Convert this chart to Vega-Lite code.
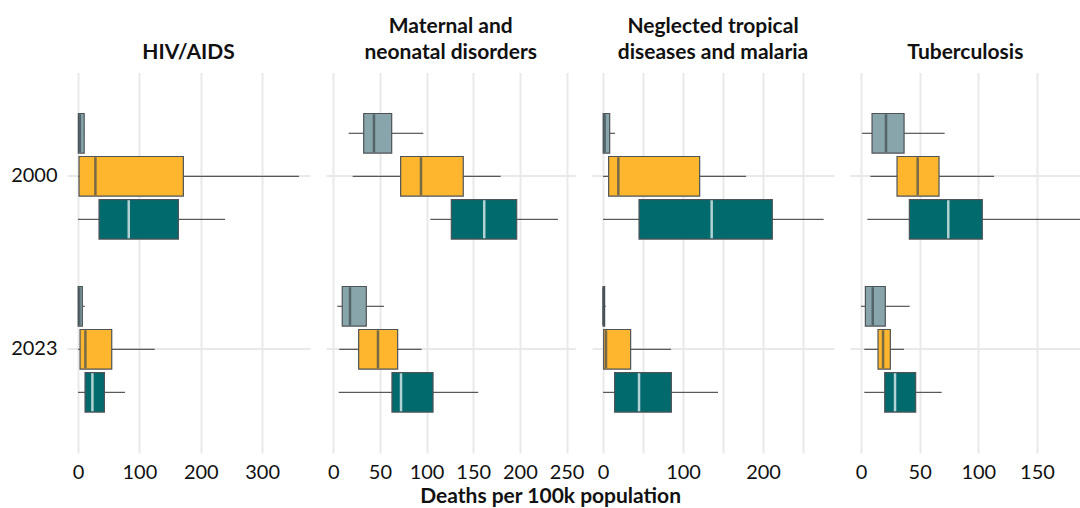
{
  "$schema": "https://vega.github.io/schema/vega-lite/v6.json",
  "padding": {"left": 10, "top": 16.5, "right": 0, "bottom": 0},
  "bounds": "flush",
  "spacing": 16,
  "resolve": {"scale": {"x": "independent", "y": "independent"}},
  "title": {"text": "Deaths per 100k population", "orient": "bottom", "anchor": "middle", "fontSize": 21, "fontWeight": "bold", "color": "#111111", "offset": 4, "dx": 5},
  "data": {"values": [
    {"cause": "HIV/AIDS", "year": "2000", "group": "Group A", "lower": 0, "q1": 0.5, "median": 3, "q3": 10, "upper": 10.5},
    {"cause": "HIV/AIDS", "year": "2000", "group": "Group B", "lower": 0, "q1": 1.6, "median": 28.3, "q3": 171.6, "upper": 360},
    {"cause": "HIV/AIDS", "year": "2000", "group": "Group C", "lower": 0, "q1": 34.2, "median": 82.6, "q3": 163.5, "upper": 239.6},
    {"cause": "HIV/AIDS", "year": "2023", "group": "Group A", "lower": 0, "q1": 0.2, "median": 2, "q3": 7, "upper": 11},
    {"cause": "HIV/AIDS", "year": "2023", "group": "Group B", "lower": 0, "q1": 3.3, "median": 12, "q3": 54.9, "upper": 125},
    {"cause": "HIV/AIDS", "year": "2023", "group": "Group C", "lower": 0, "q1": 11.4, "median": 23.4, "q3": 42.9, "upper": 76.6},
    {"cause": "Maternal", "year": "2000", "group": "Group A", "lower": 16.5, "q1": 32.6, "median": 43.6, "q3": 62.6, "upper": 96.5},
    {"cause": "Maternal", "year": "2000", "group": "Group B", "lower": 20.8, "q1": 72.2, "median": 94, "q3": 139.3, "upper": 179.4},
    {"cause": "Maternal", "year": "2000", "group": "Group C", "lower": 104, "q1": 126.5, "median": 161.8, "q3": 196.6, "upper": 240.8},
    {"cause": "Maternal", "year": "2023", "group": "Group A", "lower": 4.3, "q1": 9.6, "median": 17.9, "q3": 35.4, "upper": 54.3},
    {"cause": "Maternal", "year": "2023", "group": "Group B", "lower": 6.4, "q1": 27.2, "median": 47.9, "q3": 69, "upper": 94.7},
    {"cause": "Maternal", "year": "2023", "group": "Group C", "lower": 5.8, "q1": 62.9, "median": 72.6, "q3": 106.9, "upper": 155.4},
    {"cause": "NTD", "year": "2000", "group": "Group A", "lower": 0, "q1": 0.2, "median": 2, "q3": 8.3, "upper": 15},
    {"cause": "NTD", "year": "2000", "group": "Group B", "lower": 0, "q1": 7, "median": 19.1, "q3": 120.8, "upper": 178.7},
    {"cause": "NTD", "year": "2000", "group": "Group C", "lower": 0, "q1": 45, "median": 135.8, "q3": 211.6, "upper": 275.8},
    {"cause": "NTD", "year": "2023", "group": "Group A", "lower": 0, "q1": 0.1, "median": 0.5, "q3": 2, "upper": 3.3},
    {"cause": "NTD", "year": "2023", "group": "Group B", "lower": 0, "q1": 0.8, "median": 3.7, "q3": 34.5, "upper": 85},
    {"cause": "NTD", "year": "2023", "group": "Group C", "lower": 0, "q1": 14.5, "median": 45, "q3": 85.4, "upper": 143.7},
    {"cause": "TB", "year": "2000", "group": "Group A", "lower": 0.9, "q1": 9.4, "median": 21.3, "q3": 36.7, "upper": 71.3},
    {"cause": "TB", "year": "2000", "group": "Group B", "lower": 8, "q1": 30.7, "median": 48.3, "q3": 66.5, "upper": 113.4},
    {"cause": "TB", "year": "2000", "group": "Group C", "lower": 5.4, "q1": 41.2, "median": 74.4, "q3": 103.4, "upper": 188},
    {"cause": "TB", "year": "2023", "group": "Group A", "lower": 0, "q1": 3.7, "median": 10, "q3": 20.7, "upper": 41.5},
    {"cause": "TB", "year": "2023", "group": "Group B", "lower": 2.8, "q1": 14.5, "median": 18.8, "q3": 25, "upper": 36.7},
    {"cause": "TB", "year": "2023", "group": "Group C", "lower": 2.8, "q1": 20.2, "median": 29, "q3": 46.6, "upper": 68.8}
  ]},
  "hconcat": [
    {
      "width": 243, "height": 380.6,
      "title": {"text": "HIV/AIDS"},
      "transform": [{"filter": "datum.cause === 'HIV/AIDS'"}],
      "encoding": {
        "y": {"field": "year", "type": "nominal", "sort": ["2000", "2023"], "scale": {"paddingInner": 0.254, "paddingOuter": 0.227}, "axis": {"title": null, "labels": true}},
        "yOffset": {"field": "group", "type": "nominal", "sort": ["Group A", "Group B", "Group C"], "scale": {"paddingInner": 0.08, "paddingOuter": 0.04}}
      },
      "layer": [
        {"mark": {"type": "rule", "color": "#333333", "strokeWidth": 1, "clip": true},
         "encoding": {"x": {"field": "lower", "type": "quantitative", "scale": {"domain": [-18, 378], "nice": false, "zero": false}, "axis": {"title": null, "values": [0, 50, 100, 150, 200, 250, 300, 350], "labelExpr": "datum.value % 100 === 0 ? datum.label : ''"}}, "x2": {"field": "upper"}}},
        {"mark": {"type": "bar", "stroke": "#4d5357", "strokeWidth": 1.2, "clip": true},
         "encoding": {"x": {"field": "q1", "type": "quantitative"}, "x2": {"field": "q3"}, "fill": {"field": "group", "type": "nominal", "scale": {"domain": ["Group A", "Group B", "Group C"], "range": ["#87a5aa", "#feb62f", "#006a6d"]}, "legend": null}}},
        {"mark": {"type": "tick", "orient": "vertical", "thickness": 2.5, "size": 38, "clip": true},
         "encoding": {"x": {"field": "median", "type": "quantitative"}, "color": {"condition": {"test": "datum.group === 'Group C'", "value": "#ffffff"}, "value": "#3d4a50"}}}
      ]
    },
    {
      "width": 249.4, "height": 380.6,
      "title": {"text": ["Maternal and", "neonatal disorders"]},
      "transform": [{"filter": "datum.cause === 'Maternal'"}],
      "encoding": {
        "y": {"field": "year", "type": "nominal", "sort": ["2000", "2023"], "scale": {"paddingInner": 0.254, "paddingOuter": 0.227}, "axis": {"title": null, "labels": false}},
        "yOffset": {"field": "group", "type": "nominal", "sort": ["Group A", "Group B", "Group C"], "scale": {"paddingInner": 0.08, "paddingOuter": 0.04}}
      },
      "layer": [
        {"mark": {"type": "rule", "color": "#333333", "strokeWidth": 1, "clip": true},
         "encoding": {"x": {"field": "lower", "type": "quantitative", "scale": {"domain": [-7.8, 259.5], "nice": false, "zero": false}, "axis": {"title": null, "values": [0, 25, 50, 75, 100, 125, 150, 175, 200, 225, 250], "labelExpr": "datum.value % 50 === 0 ? datum.label : ''"}}, "x2": {"field": "upper"}}},
        {"mark": {"type": "bar", "stroke": "#4d5357", "strokeWidth": 1.2, "clip": true},
         "encoding": {"x": {"field": "q1", "type": "quantitative"}, "x2": {"field": "q3"}, "fill": {"field": "group", "type": "nominal", "scale": {"domain": ["Group A", "Group B", "Group C"], "range": ["#87a5aa", "#feb62f", "#006a6d"]}, "legend": null}}},
        {"mark": {"type": "tick", "orient": "vertical", "thickness": 2.5, "size": 38, "clip": true},
         "encoding": {"x": {"field": "median", "type": "quantitative"}, "color": {"condition": {"test": "datum.group === 'Group C'", "value": "#ffffff"}, "value": "#3d4a50"}}}
      ]
    },
    {
      "width": 242, "height": 380.6,
      "title": {"text": ["Neglected tropical", "diseases and malaria"]},
      "transform": [{"filter": "datum.cause === 'NTD'"}],
      "encoding": {
        "y": {"field": "year", "type": "nominal", "sort": ["2000", "2023"], "scale": {"paddingInner": 0.254, "paddingOuter": 0.227}, "axis": {"title": null, "labels": false}},
        "yOffset": {"field": "group", "type": "nominal", "sort": ["Group A", "Group B", "Group C"], "scale": {"paddingInner": 0.08, "paddingOuter": 0.04}}
      },
      "layer": [
        {"mark": {"type": "rule", "color": "#333333", "strokeWidth": 1, "clip": true},
         "encoding": {"x": {"field": "lower", "type": "quantitative", "scale": {"domain": [-13.8, 288.7], "nice": false, "zero": false}, "axis": {"title": null, "values": [0, 50, 100, 150, 200, 250], "labelExpr": "datum.value % 100 === 0 ? datum.label : ''"}}, "x2": {"field": "upper"}}},
        {"mark": {"type": "bar", "stroke": "#4d5357", "strokeWidth": 1.2, "clip": true},
         "encoding": {"x": {"field": "q1", "type": "quantitative"}, "x2": {"field": "q3"}, "fill": {"field": "group", "type": "nominal", "scale": {"domain": ["Group A", "Group B", "Group C"], "range": ["#87a5aa", "#feb62f", "#006a6d"]}, "legend": null}}},
        {"mark": {"type": "tick", "orient": "vertical", "thickness": 2.5, "size": 38, "clip": true},
         "encoding": {"x": {"field": "median", "type": "quantitative"}, "color": {"condition": {"test": "datum.group === 'Group C'", "value": "#ffffff"}, "value": "#3d4a50"}}}
      ]
    },
    {
      "width": 230.6, "height": 380.6,
      "title": {"text": "Tuberculosis"},
      "transform": [{"filter": "datum.cause === 'TB'"}],
      "encoding": {
        "y": {"field": "year", "type": "nominal", "sort": ["2000", "2023"], "scale": {"paddingInner": 0.254, "paddingOuter": 0.227}, "axis": {"title": null, "labels": false}},
        "yOffset": {"field": "group", "type": "nominal", "sort": ["Group A", "Group B", "Group C"], "scale": {"paddingInner": 0.08, "paddingOuter": 0.04}}
      },
      "layer": [
        {"mark": {"type": "rule", "color": "#333333", "strokeWidth": 1, "clip": true},
         "encoding": {"x": {"field": "lower", "type": "quantitative", "scale": {"domain": [-9.4, 187.2], "nice": false, "zero": false}, "axis": {"title": null, "values": [0, 25, 50, 75, 100, 125, 150, 175], "labelExpr": "datum.value % 50 === 0 ? datum.label : ''"}}, "x2": {"field": "upper"}}},
        {"mark": {"type": "bar", "stroke": "#4d5357", "strokeWidth": 1.2, "clip": true},
         "encoding": {"x": {"field": "q1", "type": "quantitative"}, "x2": {"field": "q3"}, "fill": {"field": "group", "type": "nominal", "scale": {"domain": ["Group A", "Group B", "Group C"], "range": ["#87a5aa", "#feb62f", "#006a6d"]}, "legend": null}}},
        {"mark": {"type": "tick", "orient": "vertical", "thickness": 2.5, "size": 38, "clip": true},
         "encoding": {"x": {"field": "median", "type": "quantitative"}, "color": {"condition": {"test": "datum.group === 'Group C'", "value": "#ffffff"}, "value": "#3d4a50"}}}
      ]
    }
  ],
  "config": {
    "font": "Lato",
    "background": "#ffffff",
    "view": {"stroke": null},
    "title": {"fontSize": 21, "fontWeight": "bold", "color": "#111111", "anchor": "middle", "lineHeight": 26, "baseline": "alphabetic", "offset": 9},
    "axis": {"grid": true, "gridColor": "#e9e9e9", "gridWidth": 2, "ticks": false, "domain": false, "labelFontSize": 20, "labelColor": "#111111", "labelPadding": 10, "labelFont": "Lato"},
    "axisX": {"labelPadding": 9}
  }
}
